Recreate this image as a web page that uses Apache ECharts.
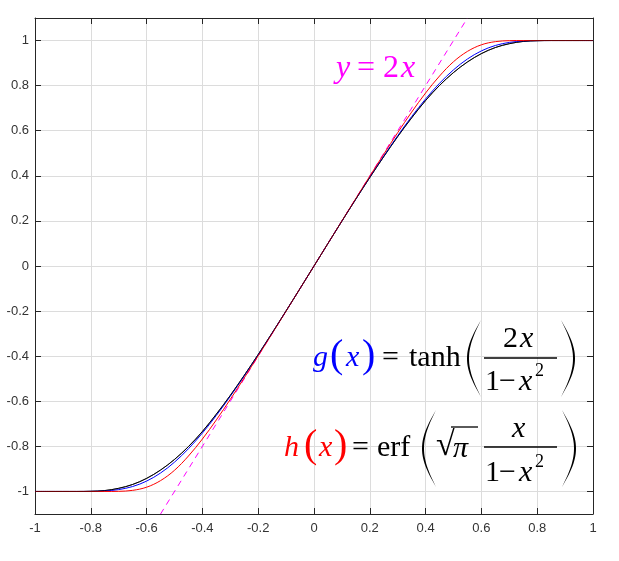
<!DOCTYPE html>
<html><head><meta charset="utf-8">
<script src="https://cdn.jsdelivr.net/npm/echarts@6.0.0/dist/echarts.min.js"></script>
<style>html,body{margin:0;padding:0;background:#fff}#c{width:619px;height:561px}</style>
</head><body><div id="c"></div>
<script>
const xs = [-1,-0.95,-0.9,-0.85,-0.8,-0.75,-0.7,-0.65,-0.6,-0.55,-0.5,-0.45,-0.4,-0.35,-0.3,-0.25,-0.2,-0.15,-0.1,-0.05,0,
  0.05,0.1,0.15,0.2,0.25,0.3,0.35,0.4,0.45,0.5,0.55,0.6,0.65,0.7,0.75,0.8,0.85,0.9,0.95,1];
const gVals = [-1,-1,-1,-1,-0.9997,-0.9979,-0.9918,-0.9781,-0.9541,-0.9182,-0.8701,-0.8105,-0.7409,-0.6628,-0.5779,-0.4879,-0.3941,-0.2976,-0.1993,-0.0999,0,
  0.0999,0.1993,0.2976,0.3941,0.4879,0.5779,0.6628,0.7409,0.8105,0.8701,0.9182,0.9541,0.9781,0.9918,0.9979,0.9997,1,1,1,1];
const hVals = [-1,-1,-1,-1,-1,-1,-0.9994,-0.9951,-0.9812,-0.9519,-0.9061,-0.8428,-0.7674,-0.6826,-0.5914,-0.4961,-0.3985,-0.2995,-0.1999,-0.1,0,
  0.1,0.1999,0.2995,0.3985,0.4961,0.5914,0.6826,0.7674,0.8428,0.9061,0.9519,0.9812,0.9951,0.9994,1,1,1,1,1,1];
const kVals = [-1,-1,-1,-1,-0.9992,-0.996,-0.986,-0.969,-0.942,-0.905,-0.858,-0.801,-0.734,-0.657,-0.574,-0.485,-0.3925,-0.2968,-0.199,-0.0998,0,
  0.0998,0.199,0.2968,0.3925,0.485,0.574,0.657,0.734,0.801,0.858,0.905,0.942,0.969,0.986,0.996,0.9992,1,1,1,1];
const lineX = [-0.55, 0.55];
const lineY = [-1.1, 1.1];
const xTicks = [-1,-0.8,-0.6,-0.4,-0.2,0,0.2,0.4,0.6,0.8,1];
const yTicks = [-1,-0.8,-0.6,-0.4,-0.2,0,0.2,0.4,0.6,0.8,1];

const pair = (a, b) => a.map((v, i) => [v, b[i]]);
const SERIF = "'Liberation Serif','Times New Roman',serif";
const AX = '#262626';

function t(x, y, text, opt) {
  return {type: 'text', z: 100, style: Object.assign({x: x, y: y, text: text, fontFamily: SERIF, fontSize: 30,
    fill: '#000', align: 'left', verticalAlign: 'middle'}, opt || {})};
}
function paren(xt, xb, top, bot, w) {
  const pts = [], n = 30, H = bot - top;
  for (let i = 0; i <= n; i++) { const s = i / n; pts.push([xt + (xb - xt) * Math.sin(Math.PI * s), top + H * s]); }
  const xbi = xb + (xt > xb ? w : -w);
  for (let i = n; i >= 0; i--) { const s = i / n; pts.push([xt + (xbi - xt) * Math.sin(Math.PI * s), top + H * s]); }
  return {type: 'polygon', z: 100, shape: {points: pts}, style: {fill: '#000'}};
}
function hline(x1, x2, y, c) {
  return {type: 'line', z: 100, shape: {x1: x1, y1: y, x2: x2, y2: y}, style: {stroke: c || '#000', lineWidth: 1.3}};
}

const it = {fontStyle: 'italic'};
const MAG = '#ff00ff', BLU = '#0000ff', RED = '#ff0000';
const graphics = [
  t(336, 69, 'y', Object.assign({fill: MAG, fontSize: 32}, it)),
  t(357, 69, '=', {fill: MAG, fontSize: 32}),
  t(383, 69, '2', {fill: MAG, fontSize: 32}),
  t(401, 69, 'x', Object.assign({fill: MAG, fontSize: 32}, it)),

  t(313, 358, 'g', Object.assign({fill: BLU}, it)),
  t(330, 356, '(', {fill: BLU, fontSize: 40}),
  t(346, 358, 'x', Object.assign({fill: BLU}, it)),
  t(362, 356, ')', {fill: BLU, fontSize: 40}),
  t(382, 358, '=', {}),
  t(409, 358, 'tanh', {}),
  paren(481, 467, 320, 397, 2),
  t(503, 339, '2', {}),
  t(520, 339, 'x', it),
  hline(484, 557, 358),
  t(485, 382, '1', {}),
  t(499, 382, '\u2212', {}),
  t(519, 382, 'x', it),
  t(535, 371, '2', {fontSize: 18}),
  paren(561, 575, 320, 397, 2),

  t(284, 448, 'h', Object.assign({fill: RED}, it)),
  t(304, 446, '(', {fill: RED, fontSize: 40}),
  t(319, 448, 'x', Object.assign({fill: RED}, it)),
  t(334, 446, ')', {fill: RED, fontSize: 40}),
  t(352, 448, '=', {}),
  t(377, 448, 'erf', {}),
  paren(436, 422, 410, 487, 2),
  t(436, 446, '\u221A', {fontSize: 34}),
  hline(451, 478, 427),
  t(453, 449, '\u03C0', it),
  hline(484, 557, 447),
  t(512, 429, 'x', it),
  t(485, 473, '1', {}),
  t(499, 473, '\u2212', {}),
  t(519, 473, 'x', it),
  t(535, 462, '2', {fontSize: 18}),
  paren(562, 576, 410, 487, 2)
];

const chart = echarts.init(document.getElementById('c'));
const lab = {color: '#333', fontFamily: "'Liberation Sans',Arial,sans-serif", fontSize: 13};
const smoothOpt = 0.35;
chart.setOption({
  animation: false,
  backgroundColor: '#fff',
  grid: {left: 35, right: 26, top: 18, bottom: 47},
  xAxis: [
    {type: 'value', min: -1, max: 1, interval: 0.2, position: 'bottom',
      axisLine: {show: true, onZero: false, lineStyle: {color: AX, width: 1}},
      axisTick: {show: true, inside: true, length: 6, lineStyle: {color: AX}, customValues: xTicks},
      axisLabel: Object.assign({margin: 8, customValues: xTicks}, lab),
      splitLine: {show: true, lineStyle: {color: '#dcdcdc', width: 1}}},
    {type: 'value', min: -1, max: 1, interval: 0.2, position: 'top',
      axisLine: {show: true, onZero: false, lineStyle: {color: AX, width: 1}},
      axisTick: {show: true, inside: true, length: 6, lineStyle: {color: AX}},
      axisLabel: {show: false}, splitLine: {show: false}}
  ],
  yAxis: [
    {type: 'value', min: -1.1, max: 1.1, position: 'left',
      axisLine: {show: true, onZero: false, lineStyle: {color: AX, width: 1}},
      axisTick: {show: true, inside: true, length: 6, lineStyle: {color: AX}, customValues: yTicks},
      axisLabel: Object.assign({margin: 6, customValues: yTicks}, lab),
      splitLine: {show: true, lineStyle: {color: '#dcdcdc', width: 1}}},
    {type: 'value', min: -1.1, max: 1.1, position: 'right',
      axisLine: {show: true, onZero: false, lineStyle: {color: AX, width: 1}},
      axisTick: {show: true, inside: true, length: 6, lineStyle: {color: AX}, customValues: yTicks},
      axisLabel: {show: false, customValues: yTicks}, splitLine: {show: false}}
  ],
  series: [
    {type: 'line', name: 'y=2x', data: pair(lineX, lineY), showSymbol: false, symbol: 'none',
      lineStyle: {color: MAG, width: 1, type: [6, 5]}, z: 2},
    {type: 'line', name: 'k', data: pair(xs, kVals), smooth: smoothOpt, symbol: 'none',
      lineStyle: {color: '#000', width: 1}, z: 3},
    {type: 'line', name: 'g', data: pair(xs, gVals), smooth: smoothOpt, symbol: 'none',
      lineStyle: {color: BLU, width: 1}, z: 4},
    {type: 'line', name: 'h', data: pair(xs, hVals), smooth: smoothOpt, symbol: 'none',
      lineStyle: {color: RED, width: 1}, z: 5},
    {type: 'line', name: 'k2', data: pair(xs, kVals), smooth: smoothOpt, symbol: 'none',
      lineStyle: {color: '#000', width: 1, opacity: 0.6}, z: 6}
  ],
  graphic: graphics
});
</script></body></html>
